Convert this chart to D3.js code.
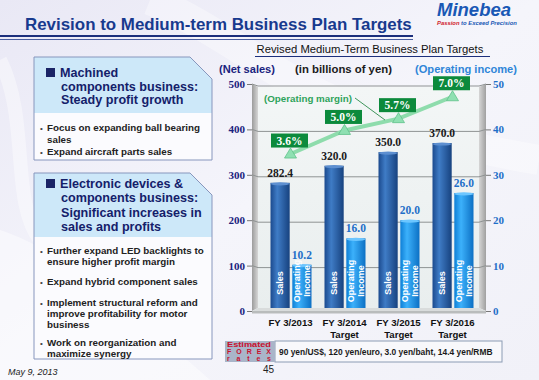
<!DOCTYPE html>
<html><head><meta charset="utf-8">
<script src="https://cdn.jsdelivr.net/npm/d3@7"></script>
<style>
html,body{margin:0;padding:0;background:#f3f3f9;}
svg{display:block;}
text{font-family:"Liberation Sans",Arial,sans-serif;}
.serif{font-family:"Liberation Serif","Times New Roman",serif;}
</style></head>
<body>
<svg id="c" width="539" height="380"></svg>
<script>
// ---------- data ----------
const categories = ["FY 3/2013", "FY 3/2014", "FY 3/2015", "FY 3/2016"];
const subLabels = ["", "Target", "Target", "Target"];
const netSales = [282.4, 320.0, 350.0, 370.0];
const opIncome = [10.2, 16.0, 20.0, 26.0];
const opMargin = [3.6, 5.0, 5.7, 7.0];
const salesTicks = [0, 100, 200, 300, 400, 500];
const incomeTicks = [0, 10, 20, 30, 40, 50];
const seriesKeys = ["sales", "income"];
const barInnerLabels = {sales: ["Sales"], income: ["Operating", "Income"]};
const box1Head = ["Machined", "components business:", "Steady profit growth"];
const box1Bullets = [["Focus on expanding ball bearing", "sales"], ["Expand aircraft parts sales"]];
const box2Head = ["Electronic devices &", "components business:", "Significant increases in", "sales and profits"];
const box2Bullets = [["Further expand LED backlights to", "ensure higher profit margin"], ["Expand hybrid component sales"],
  ["Implement structural reform and", "improve profitability for motor", "business"], ["Work on reorganization and", "maximize synergy"]];
const forexText = "90 yen/US$, 120 yen/euro, 3.0 yen/baht, 14.4 yen/RMB";

(function(){
const svg = d3.select("#c");
const defs = svg.append("defs");

function fit(sel, w){ const n = sel.node(); const fs = parseFloat(sel.attr("font-size")); const L = n.getComputedTextLength(); sel.attr("font-size", (fs*w/L).toFixed(2)); return sel; }

// ---------- background ----------
const bg = defs.append("linearGradient").attr("id","bg").attr("x1",0).attr("y1",0).attr("x2",1).attr("y2",1);
bg.append("stop").attr("offset",0).attr("stop-color","#e9e8f5");
bg.append("stop").attr("offset",0.5).attr("stop-color","#f5f5fb");
bg.append("stop").attr("offset",1).attr("stop-color","#f1f1f8");
svg.append("rect").attr("width",539).attr("height",380).attr("fill","url(#bg)");
svg.append("path").attr("d","M0,230 C60,250 120,300 210,380 L0,380 Z").attr("fill","#ffffff").attr("opacity",0.45);
svg.append("path").attr("d","M150,0 C250,40 300,120 539,160").attr("fill","none").attr("stroke","#ffffff").attr("stroke-width",30).attr("opacity",0.35);
svg.append("path").attr("d","M0,60 C30,120 10,200 40,240").attr("fill","none").attr("stroke","#ffffff").attr("stroke-width",14).attr("opacity",0.4);

// ---------- title ----------
fit(svg.append("text").attr("x",25).attr("y",30).attr("font-size",17).attr("font-weight","bold").attr("fill","#183a8e")
  .text("Revision to Medium-term Business Plan Targets"), 387);
svg.append("line").attr("x1",0).attr("x2",413).attr("y1",36).attr("y2",36).attr("stroke","#1c2f7c").attr("stroke-width",2);
svg.append("line").attr("x1",0).attr("x2",413).attr("y1",39.5).attr("y2",39.5).attr("stroke","#4a5ea0").attr("stroke-width",1);

// logo
fit(svg.append("text").attr("x",437).attr("y",15.5).attr("font-size",15).attr("font-weight","bold").attr("font-style","italic").attr("fill","#1958b5").text("Minebea"), 74);
const tg = svg.append("text").attr("x",437).attr("y",24.5).attr("font-size",5.5).attr("font-style","italic").attr("font-weight","bold");
tg.append("tspan").attr("fill","#d0202a").text("Passion ");
tg.append("tspan").attr("fill","#1958b5").text("to Exceed Precision");
fit(tg, 80);

// ---------- left boxes ----------
const headSize = 12.6;
const bulletSize = 9.8;
function infoBox(boxTop, headBottom, bottom, head, bullets, headY, bulletY){
  const bx0=34, bx1=212, cut=22;
  const outline = `M${bx0},${boxTop} H${bx1-cut} L${bx1},${boxTop+cut} V${bottom} H${bx0} Z`;
  svg.append("path").attr("d",outline).attr("fill","#fbfbfe");
  svg.append("path").attr("d",`M${bx0},${boxTop} H${bx1-cut} L${bx1},${boxTop+cut} V${headBottom} H${bx0} Z`).attr("fill","#cde8f9");
  svg.append("path").attr("d",outline).attr("fill","none").attr("stroke","#8796bd").attr("stroke-width",1);
  svg.append("rect").attr("x",46).attr("y",headY[0]-9).attr("width",9).attr("height",9).attr("fill","#1a2466");
  head.forEach((t,i)=>{
    svg.append("text").attr("x", i===0?60:61).attr("y",headY[i]).attr("font-size",headSize).attr("font-weight","bold").attr("fill","#14206a").text(t);
  });
  let k=0;
  bullets.forEach(b=>{
    b.forEach((t,j)=>{
      if(j===0) svg.append("text").attr("x",40).attr("y",bulletY[k]).attr("font-size",8).attr("fill","#444").text("•");
      svg.append("text").attr("x",47).attr("y",bulletY[k]).attr("font-size",bulletSize).attr("font-weight","bold").attr("fill","#222").text(t);
      k++;
    });
  });
}
infoBox(57, 113, 160, box1Head, box1Bullets, [77,91,104], [131,142.5,155]);
infoBox(173, 237, 359, box2Head, box2Bullets, [188,202,217,231], [253.5,264.5,284.5,306,317,328,346,357]);

svg.append("text").attr("x",8).attr("y",375).attr("font-size",9).attr("font-style","italic").attr("fill","#222").text("May 9, 2013");
svg.append("text").attr("x",263).attr("y",373).attr("font-size",10).attr("fill","#222").text("45");

// ---------- chart headings ----------
fit(svg.append("text").attr("x",370).attr("y",53).attr("text-anchor","middle").attr("font-size",11).attr("fill","#111").text("Revised Medium-Term Business Plan Targets"),227);
svg.append("line").attr("x1",255).attr("x2",490).attr("y1",56.5).attr("y2",56.5).attr("stroke","#1c2f7c").attr("stroke-width",1.2);
fit(svg.append("text").attr("x",219).attr("y",73).attr("font-size",11).attr("font-weight","bold").attr("fill","#1a237e").text("(Net sales)"),56);
fit(svg.append("text").attr("x",295).attr("y",73).attr("font-size",11).attr("font-weight","bold").attr("fill","#1a1a1a").text("(in billions of yen)"),97);
fit(svg.append("text").attr("x",415).attr("y",73).attr("font-size",11).attr("font-weight","bold").attr("fill","#2f86d8").text("(Operating income)"),102);

// ---------- scales ----------
const yS = d3.scaleLinear().domain([0,500]).range([311,84]);
const yI = d3.scaleLinear().domain([0,50]).range([311,84]);
const yM = d3.scaleLinear().domain([0,10]).range([214.7,46.2]);
const x0 = d3.scaleBand().domain(categories).range([263.5,479.5]).padding(0);
const x1 = d3.scaleBand().domain(seriesKeys).range([7,48]).paddingInner(0.12);
const floorY = 308;

// ---------- 3D frame ----------
const wl = defs.append("linearGradient").attr("id","wall").attr("x1",0).attr("x2",1);
wl.append("stop").attr("offset",0).attr("stop-color","#9c9c9c");
wl.append("stop").attr("offset",1).attr("stop-color","#d6d6d6");
const wr = defs.append("linearGradient").attr("id","wallR").attr("x1",0).attr("x2",1);
wr.append("stop").attr("offset",0).attr("stop-color","#d6d6d6");
wr.append("stop").attr("offset",1).attr("stop-color","#a0a0a0");
const bwg = defs.append("linearGradient").attr("id","back").attr("x1",0).attr("y1",0).attr("x2",0).attr("y2",1);
bwg.append("stop").attr("offset",0).attr("stop-color","#f3f6f6");
bwg.append("stop").attr("offset",1).attr("stop-color","#e9eeee");
const yTop = yS(500);
svg.append("rect").attr("x",258).attr("y",yTop+3).attr("width",221).attr("height",floorY-yTop-3).attr("fill","url(#back)");
svg.append("path").attr("d",`M252,${yTop} L258,${yTop+3} L258,${floorY} L252,311 Z`).attr("fill","url(#wall)");
svg.append("path").attr("d",`M479,${yTop+3} L486,${yTop} L486,311 L479,${floorY} Z`).attr("fill","url(#wallR)");
svg.append("path").attr("d",`M252,311 L258,${floorY} L479,${floorY} L486,311 Z`).attr("fill","#d9dcdc");
svg.append("rect").attr("x",252).attr("y",311).attr("width",234).attr("height",2.5).attr("fill","#b9bcbc");

// gridlines
svg.append("g").selectAll("path").data(salesTicks.filter(v=>v>0)).join("path")
  .attr("d",v=>`M252,${yS(v)} L258,${yS(v)+2} L479,${yS(v)+2} L486,${yS(v)}`)
  .attr("fill","none").attr("stroke","#8f9393").attr("stroke-width",1);

// axes
const axL = svg.append("g").attr("transform","translate(252,0)")
  .call(d3.axisLeft(yS).tickValues(salesTicks).tickSize(5).tickPadding(2).tickFormat(d3.format("d")));
axL.select(".domain").remove();
axL.selectAll("line").attr("stroke","#777");
axL.selectAll("text").attr("class","serif").attr("font-size",11).attr("font-weight","bold").attr("fill","#1a237e");
const axR = svg.append("g").attr("transform","translate(486,0)")
  .call(d3.axisRight(yI).tickValues(incomeTicks).tickSize(5).tickPadding(2).tickFormat(d3.format("d")));
axR.select(".domain").remove();
axR.selectAll("line").attr("stroke","#777");
axR.selectAll("text").attr("class","serif").attr("font-size",11).attr("font-weight","bold").attr("fill","#1f6fc8");

// ---------- bars ----------
function cyl(id, c0, c1, c2){
  const g = defs.append("linearGradient").attr("id",id).attr("x1",0).attr("x2",1);
  g.append("stop").attr("offset",0).attr("stop-color",c0);
  g.append("stop").attr("offset",0.35).attr("stop-color",c1);
  g.append("stop").attr("offset",1).attr("stop-color",c2);
}
cyl("gS","#1b4a8e","#3f7cc6","#17427f");
cyl("gI","#0e7fd6","#3cb1fb","#0c70c4");
const rows = categories.map((c,i)=>({cat:c, sales:netSales[i], income:opIncome[i], margin:opMargin[i], sub:subLabels[i]}));
const barData = rows.flatMap(r=>seriesKeys.map(k=>({cat:r.cat,key:k,v:r[k]})));
const yOf = d=> d.key==="sales" ? yS(d.v) : yI(d.v);
const bars = svg.append("g").selectAll("g").data(barData).join("g")
  .attr("transform",d=>`translate(${x0(d.cat)+x1(d.key)},0)`);
const bw1 = x1.bandwidth();
bars.append("rect").attr("x",0).attr("width",bw1).attr("y",d=>yOf(d)).attr("height",d=>floorY-yOf(d))
  .attr("fill",d=>d.key==="sales"?"url(#gS)":"url(#gI)");
bars.append("ellipse").attr("cx",bw1/2).attr("cy",d=>yOf(d)+1).attr("rx",bw1/2).attr("ry",1.6)
  .attr("fill",d=>d.key==="sales"?"#5d8fd0":"#6cc6ff");
bars.append("text").attr("class","serif").attr("x",bw1/2).attr("y",d=>yOf(d)-6).attr("text-anchor","middle")
  .attr("font-size",11.5).attr("font-weight","bold").attr("fill",d=>d.key==="sales"?"#1a1a1a":"#1f6fc8")
  .text(d=>d3.format(".1f")(d.v));
bars.each(function(d){
  const lines = barInnerLabels[d.key];
  const t = d3.select(this).append("g").attr("transform",`translate(${bw1/2},${d.key==="sales"?283:281}) rotate(-90)`);
  const base = lines.length===1 ? [3.3] : [-1.5, 7.8];
  lines.forEach((s,j)=>t.append("text").attr("x",0).attr("y",base[j]).attr("text-anchor","middle")
    .attr("font-size",9).attr("font-weight","bold").attr("fill","#fff").text(s));
});

// x labels
const xl = svg.append("g").selectAll("g").data(rows).join("g").attr("transform",d=>`translate(${x0(d.cat)+x0.bandwidth()/2},0)`);
xl.append("text").attr("y",326).attr("text-anchor","middle").attr("font-size",9.6).attr("font-weight","bold").attr("fill","#111").text(d=>d.cat);
xl.append("text").attr("y",338).attr("text-anchor","middle").attr("font-size",9.6).attr("font-weight","bold").attr("fill","#111").text(d=>d.sub);

// ---------- margin line ----------
const mx = d=>x0(d.cat)+x0.bandwidth()/2;
svg.append("path").datum(rows).attr("d",d3.line().x(mx).y(d=>yM(d.margin)))
  .attr("fill","none").attr("stroke","#8edcac").attr("stroke-width",4);
svg.append("g").selectAll("path").data(rows).join("path")
  .attr("d",d=>{const x=mx(d),y=yM(d.margin);return `M${x},${y-6} L${x+6},${y+4} L${x-6},${y+4} Z`;})
  .attr("fill","#8fe0b2").attr("stroke","#5fc28a").attr("stroke-width",0.8);
const lb = svg.append("g").selectAll("g").data(rows).join("g").attr("transform",d=>`translate(${mx(d)-1},${yM(d.margin)-13.5})`);
lb.append("rect").attr("x",-18.5).attr("y",-7).attr("width",37).attr("height",14).attr("fill","#0c8a3c");
lb.append("text").attr("class","serif").attr("y",4).attr("text-anchor","middle").attr("font-size",11.5).attr("font-weight","bold").attr("fill","#fff")
  .text(d=>d3.format(".1f")(d.margin)+"%");
fit(svg.append("text").attr("x",264).attr("y",101.5).attr("font-size",11).attr("font-weight","bold").attr("fill","#2ea35a").text("(Operating margin)"),88);
svg.append("line").attr("x1",355).attr("y1",98).attr("x2",385).attr("y2",120).attr("stroke","#2a8a4a").attr("stroke-width",0.9);

// ---------- FOREX ----------
svg.append("rect").attr("x",275).attr("y",341).attr("width",227).attr("height",21).attr("fill","#f8f8fb").attr("stroke","#8c9cb4");
svg.append("rect").attr("x",225).attr("y",341).attr("width",50).attr("height",21).attr("fill","#a9b5c9");
["Estimated","FOREX","rates"].forEach((s,i)=>{
  svg.append("text").attr("x",227).attr("y",347+i*6.8).attr("font-size",7).attr("font-weight","bold").attr("fill","#c8102e")
    .attr("textLength",44).attr("lengthAdjust", i===0?"spacingAndGlyphs":"spacing").text(s);
});
fit(svg.append("text").attr("x",279).attr("y",355).attr("font-size",9.5).attr("font-weight","bold").attr("fill","#1a1a1a").text(forexText),214);
})();
</script>
</body></html>
